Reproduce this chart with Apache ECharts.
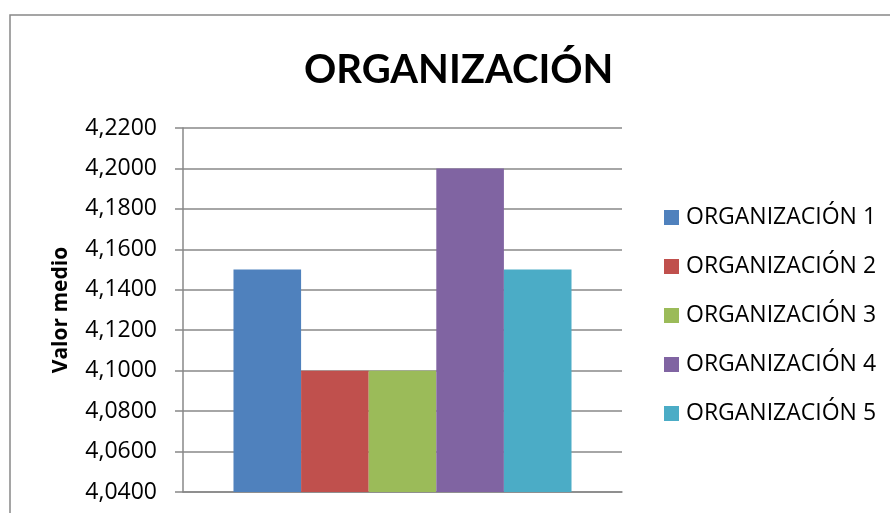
<!DOCTYPE html>
<html>
<head>
<meta charset="utf-8">
<script src="https://cdn.jsdelivr.net/npm/echarts@6/dist/echarts.min.js"></script>
<style>
	html, body { margin: 0; padding: 0; background: #fff; }
	#chart { width: 890px; height: 513px; }
</style>
</head>
<body>
<div id="chart"></div>
<script>
	var categories = [''];
	var seriesNames = ['ORGANIZACIÓN 1', 'ORGANIZACIÓN 2', 'ORGANIZACIÓN 3', 'ORGANIZACIÓN 4', 'ORGANIZACIÓN 5'];
	var seriesValues = [4.15, 4.10, 4.10, 4.20, 4.15];
	var seriesColors = ['#4F81BD', '#C0504D', '#9BBB59', '#8064A2', '#4BACC6'];

	var gridColor = '#888888';

	var series = [];
	for (var i = 0; i < seriesNames.length; i++) {
		series.push({
			name: seriesNames[i],
			type: 'bar',
			data: [seriesValues[i]],
			barGap: 0,
			barCategoryGap: '23%',
			itemStyle: {
				color: seriesColors[i]
			}
		});
	}

	var option = {
		animation: false,
		color: seriesColors,
		title: {
			text: 'ORGANIZACIÓN',
			left: 299,
			top: 45,
			textStyle: {
				fontFamily: 'Lato',
				fontWeight: 'bold',
				fontSize: 40,
				color: '#000'
			}
		},
		legend: {
			orient: 'vertical',
			left: 664,
			top: 206,
			padding: 0,
			itemWidth: 15,
			itemHeight: 15,
			itemGap: 26,
			icon: 'rect',
			textStyle: {
				fontFamily: 'Open Sans',
				fontSize: 23,
				lineHeight: 22,
				color: '#000',
				padding: [0, 0, 0, 2]
			},
			data: seriesNames
		},
		graphic: [{
			type: 'rect',
			shape: { x: 10, y: 15, width: 900, height: 600 },
			style: { fill: 'none', stroke: gridColor, lineWidth: 1.5 },
			silent: true
		}],
		grid: {
			left: 183,
			right: 268,
			top: 128,
			bottom: 21
		},
		xAxis: {
			type: 'category',
			data: categories,
			axisLine: { lineStyle: { color: gridColor, width: 1.5 } },
			axisTick: { show: false },
			axisLabel: { show: false }
		},
		yAxis: {
			type: 'value',
			min: 4.04,
			max: 4.22,
			interval: 0.02,
			name: 'Valor medio',
			nameLocation: 'middle',
			nameGap: 111,
			nameTextStyle: {
				fontFamily: 'Open Sans',
				fontWeight: 'bold',
				fontSize: 21,
				color: '#000'
			},
			axisLine: { show: true, lineStyle: { color: gridColor, width: 1.5 } },
			axisTick: { show: true, length: 8, lineStyle: { color: gridColor, width: 1.5 } },
			splitLine: { lineStyle: { color: gridColor, width: 1.5 } },
			axisLabel: {
				margin: 26,
				fontFamily: 'Open Sans',
				fontSize: 23,
				color: '#000',
				formatter: function(v) {
					return v.toFixed(4).replace('.', ',');
				}
			}
		},
		series: series
	};

	var chart = echarts.init(document.getElementById('chart'));
	chart.setOption(option);
</script>
</body>
</html>
